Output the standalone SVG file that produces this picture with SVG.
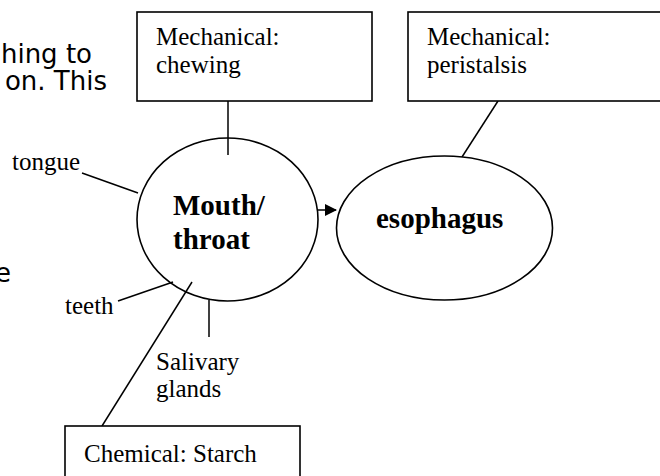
<svg xmlns="http://www.w3.org/2000/svg" width="660" height="476" viewBox="0 0 660 476">
<style>
.shape{fill:#fff;stroke:#000;stroke-width:1.6}
.line{stroke:#000;stroke-width:1.5;fill:none}
.lbl{font-family:"Liberation Serif","Times New Roman",serif;font-size:25px;fill:#000}
.bold{font-family:"Liberation Serif","Times New Roman",serif;font-size:29px;font-weight:bold;fill:#000}
.body{font-family:"DejaVu Sans","Noto Sans",sans-serif;font-size:26px;fill:#000}
</style>
<defs>
<marker id="arr" markerWidth="12" markerHeight="12" refX="11" refY="6" orient="auto" markerUnits="userSpaceOnUse">
<path d="M0,0 L12,6 L0,12 Z" fill="#000"/>
</marker>
</defs>
<rect width="660" height="476" fill="#fff"/>
<g id="bodytext">
<text class="body" x="92" y="63" text-anchor="end">hing to</text>
<text class="body" x="107" y="90" text-anchor="end">on. This</text>
<text class="body" x="11" y="282" text-anchor="end">e</text>
</g>
<g id="connectors">
<line class="line" x1="228" y1="101" x2="228" y2="155"/>
<line class="line" x1="498" y1="101" x2="462" y2="157"/>
<line class="line" x1="82" y1="173" x2="138" y2="193"/>
<line class="line" x1="118" y1="301" x2="173" y2="282"/>
<line class="line" x1="192" y1="282" x2="102" y2="426"/>
<line class="line" x1="209" y1="300" x2="209" y2="337"/>
<line class="line" x1="318" y1="210" x2="336" y2="210" marker-end="url(#arr)"/>
</g>
<g id="chewing">
<rect class="shape" x="137" y="12" width="235" height="89"/>
<text class="lbl" x="156" y="45">Mechanical:</text>
<text class="lbl" x="156" y="73">chewing</text>
</g>
<g id="peristalsis">
<rect class="shape" x="408" y="12" width="270" height="89"/>
<text class="lbl" x="427" y="45">Mechanical:</text>
<text class="lbl" x="427" y="73">peristalsis</text>
</g>
<g id="mouth">
<ellipse class="shape" cx="227.5" cy="219.5" rx="90.5" ry="81.5" style="fill:none"/>
<text class="bold" x="173" y="215">Mouth/</text>
<text class="bold" x="173" y="249">throat</text>
</g>
<g id="esophagus">
<ellipse class="shape" cx="444.5" cy="228" rx="108" ry="72"/>
<text class="bold" x="376" y="228">esophagus</text>
</g>
<g id="tongue"><text class="lbl" x="12" y="170">tongue</text></g>
<g id="teeth"><text class="lbl" x="65" y="314">teeth</text></g>
<g id="salivary">
<text class="lbl" x="156" y="370">Salivary</text>
<text class="lbl" x="156" y="397">glands</text>
</g>
<g id="chemical">
<rect class="shape" x="65" y="426" width="235" height="70"/>
<text class="lbl" x="84" y="462">Chemical: Starch</text>
</g>
</svg>
